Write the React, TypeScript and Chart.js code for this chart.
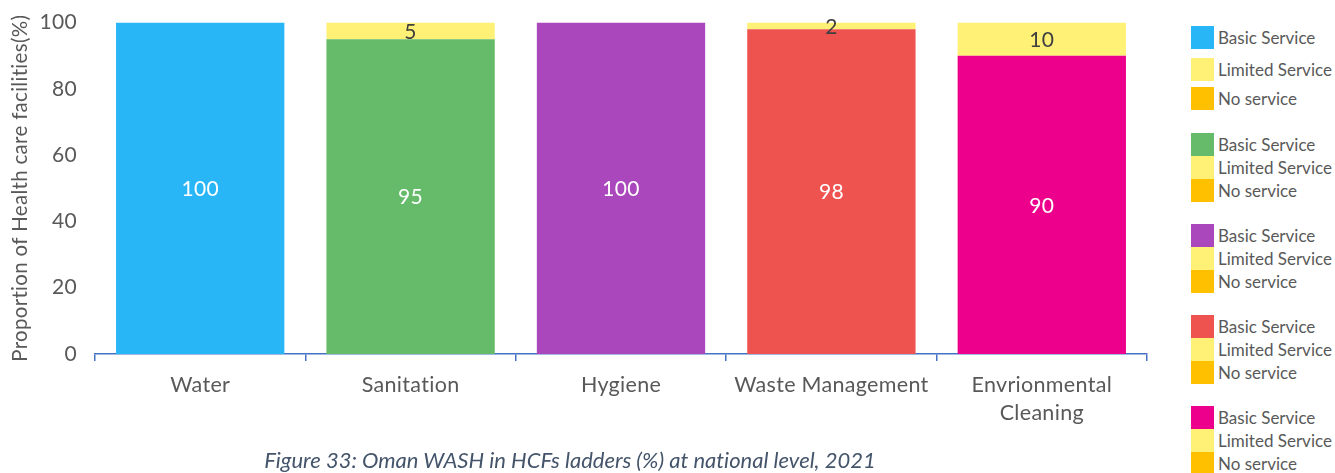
import React, { useEffect, useRef } from "react";
import { Chart, registerables } from "chart.js";

Chart.register(...registerables);

const categories: (string | string[])[] = ["Water", "Sanitation", "Hygiene", "Waste Management", ["Envrionmental", "Cleaning"]];
const basicService = [100, 95, 100, 98, 90];
const limitedService = [0, 5, 0, 2, 10];
const noService = [0, 0, 0, 0, 0];
const basicColors = ["#29B6F6", "#66BB6A", "#AB47BC", "#EF5350", "#EC008C"];
const limitedColor = "#FFF176";
const noColor = "#FFC000";
const yTicks = [0, 20, 40, 60, 80, 100];
const legendLabels = ["Basic Service", "Limited Service", "No service"];
const yTitle = "Proportion of Health care facilities(%)";
const caption = "Figure 33: Oman WASH in HCFs ladders (%) at national level, 2021";

const FONT = "Lato, 'Open Sans', sans-serif";

const labelPlugin = {
  id: "segLabels",
  afterDatasetsDraw(chart: any) {
    const ctx = chart.ctx;
    ctx.save();
    ctx.font = `21px ${FONT}`;
    ctx.textAlign = "center";
    ctx.textBaseline = "middle";
    chart.data.datasets.forEach((ds: any, di: number) => {
      const meta = chart.getDatasetMeta(di);
      meta.data.forEach((bar: any, i: number) => {
        const v = ds.data[i];
        if (!v) return;
        const props = bar.getProps(["x", "y", "base"], true);
        const cy = (props.y + props.base) / 2;
        ctx.fillStyle = di === 0 ? "#FFFFFF" : "#404040";
        ctx.fillText(String(v), props.x, cy + 1);
      });
    });
    ctx.restore();
  },
};

const noLigPlugin = {
  id: "noLig",
  beforeDraw(chart: any) {
    try { (chart.ctx as any).letterSpacing = "0.3px"; } catch (e) {}
  },
};

export default function App() {
  const ref = useRef<HTMLCanvasElement>(null);
  useEffect(() => {
    if (!ref.current) return;
    const chart = new Chart(ref.current, {
      type: "bar",
      data: {
        labels: categories as any,
        datasets: [
          { label: legendLabels[0], data: basicService, backgroundColor: basicColors, categoryPercentage: 0.8, barPercentage: 1 },
          { label: legendLabels[1], data: limitedService, backgroundColor: limitedColor, categoryPercentage: 0.8, barPercentage: 1 },
          { label: legendLabels[2], data: noService, backgroundColor: noColor, categoryPercentage: 0.8, barPercentage: 1 },
        ],
      },
      options: {
        animation: false,
        responsive: false,
        layout: { padding: { top: 22, right: 13, left: 0, bottom: 0 } },
        plugins: { legend: { display: false }, tooltip: { enabled: false } },
        scales: {
          x: {
            stacked: true,
            grid: { display: true, offset: true, drawOnChartArea: false, tickLength: 7, color: "#4472C4", lineWidth: 1.5 },
            border: { display: true, color: "#4472C4", width: 1.5 },
            ticks: { color: "#595959", font: { size: 21.5, family: FONT, lineHeight: 1.3 }, padding: 10, maxRotation: 0, autoSkip: false },
            afterFit: (s: any) => { s.height = 119; },
          },
          y: {
            stacked: true,
            min: 0,
            max: 100,
            afterBuildTicks: (s: any) => { s.ticks = yTicks.map((v) => ({ value: v })); },
            grid: { display: false },
            border: { display: false },
            ticks: { color: "#595959", font: { size: 21, family: FONT }, padding: 10 },
            title: { display: true, text: yTitle, color: "#595959", font: { size: 20.5, family: FONT }, padding: { top: 8, bottom: 0 } },
            afterFit: (s: any) => { s.width = 95; },
          },
        },
      },
      plugins: [noLigPlugin, labelPlugin],
    });
    return () => chart.destroy();
  }, []);

  const groupStarts = [26, 133, 224, 315, 406];
  const rowOffsets = [[0, 32, 61], [0, 23, 46], [0, 23, 46], [0, 23, 46], [0, 23, 46]];
  const colorsFor = (g: number) => [basicColors[g], limitedColor, noColor];

  return (
    <div style={{ position: "absolute", left: 0, top: 0, width: 1335, height: 473, background: "#fff", overflow: "hidden" }}>
      <canvas ref={ref} width={1160} height={473} style={{ position: "absolute", left: 0, top: 0 }} />
      {groupStarts.map((gy, g) =>
        legendLabels.map((lab, r) => (
          <div key={`${g}-${r}`} style={{ position: "absolute", left: 1191, top: gy + rowOffsets[g][r], height: 23, display: "flex", alignItems: "center" }}>
            <div style={{ width: 23, height: 23, background: colorsFor(g)[r] }} />
            <span style={{ marginLeft: 4, fontFamily: FONT, fontSize: 17, color: "#595959", whiteSpace: "nowrap" }}>{lab}</span>
          </div>
        ))
      )}
      <div style={{ position: "absolute", left: 0, width: 1140, top: 446, textAlign: "center", fontFamily: FONT, fontStyle: "italic", fontSize: 22, color: "#44546A", whiteSpace: "nowrap", fontVariantLigatures: "none" }}>{caption}</div>
    </div>
  );
}
